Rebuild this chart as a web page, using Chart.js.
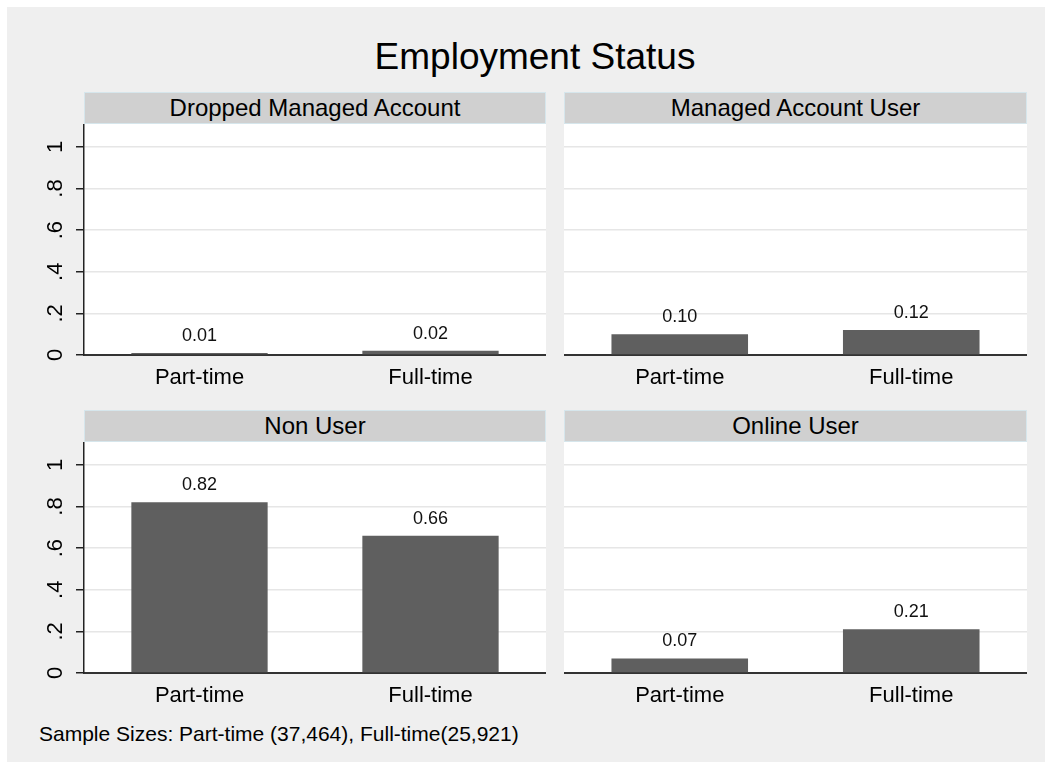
<!DOCTYPE html>
<html>
<head>
<meta charset="utf-8">
<script src="https://cdn.jsdelivr.net/npm/chart.js@4.4.1/dist/chart.umd.min.js"></script>
<style>
  body { margin: 0; background: #fff; font-family: 'Liberation Sans', Arial, sans-serif; }
  #frame { position: absolute; left: 7px; top: 7px; width: 1038px; height: 755px; background: #efefef; }
  .abs { position: absolute; }
  .title { left: 335px; top: 38px; width: 400px; text-align: center; font-size: 37px; line-height: 37px; color: #000; white-space: nowrap; }
  .strip { box-sizing: border-box; height: 32px; background: #d0d0d0; border: 1px solid #d6e6ec; text-align: center; font-size: 24px; line-height: 30px; color: #000; white-space: nowrap; }
  .note { left: 39px; top: 723px; font-size: 21px; line-height: 21px; color: #000; white-space: nowrap; }
</style>
</head>
<body>
<div id="frame"></div>
<div class="abs title">Employment Status</div>

<div class="abs strip" style="left:84px;top:92px;width:462px">Dropped Managed Account</div>
<div class="abs strip" style="left:564px;top:92px;width:463px">Managed Account User</div>
<div class="abs strip" style="left:84px;top:410px;width:462px">Non User</div>
<div class="abs strip" style="left:564px;top:410px;width:463px">Online User</div>

<canvas id="p1" class="abs" style="left:30px;top:124px" width="516" height="276"></canvas>
<canvas id="p2" class="abs" style="left:564px;top:124px" width="463" height="276"></canvas>
<canvas id="p3" class="abs" style="left:30px;top:442px" width="516" height="276"></canvas>
<canvas id="p4" class="abs" style="left:564px;top:442px" width="463" height="276"></canvas>

<div class="abs note">Sample Sizes: Part-time (37,464), Full-time(25,921)</div>

<script>
const categories = ['Part-time', 'Full-time']
const droppedValues = [0.01, 0.02]
const managedValues = [0.10, 0.12]
const nonUserValues = [0.82, 0.66]
const onlineValues = [0.07, 0.21]
const yTicks = [0, 0.2, 0.4, 0.6, 0.8, 1]
const yTickLabels = ['0', '.2', '.4', '.6', '.8', '1']

const FONT = "'Liberation Sans', Arial, sans-serif"

// white plot area behind the bars
const plotBg = {
    id: 'plotBg',
    beforeDraw(chart) {
        const { ctx, chartArea: a } = chart
        ctx.save()
        ctx.fillStyle = '#ffffff'
        ctx.fillRect(a.left, a.top, a.right - a.left, a.bottom - a.top)
        ctx.restore()
    }
}

// value labels above each bar
const barLabels = {
    id: 'barLabels',
    afterDatasetsDraw(chart) {
        const ctx = chart.ctx
        const meta = chart.getDatasetMeta(0)
        const values = chart.data.datasets[0].data
        ctx.save()
        ctx.font = '18px ' + FONT
        ctx.fillStyle = '#111'
        ctx.textAlign = 'center'
        ctx.textBaseline = 'alphabetic'
        meta.data.forEach((bar, i) => {
            ctx.fillText(values[i].toFixed(2), bar.x, bar.y - 12)
        })
        ctx.restore()
    }
}

function makePanel(id, values, showAxis) {
    const config = {
        type: 'bar',
        data: {
            labels: categories,
            datasets: [{
                data: values,
                backgroundColor: '#5f5f5f',
                borderWidth: 0,
                barPercentage: 0.59,
                categoryPercentage: 1
            }]
        },
        options: {
            responsive: false,
            animation: false,
            layout: { padding: 0 },
            plugins: {
                legend: { display: false },
                tooltip: { enabled: false }
            },
            scales: {
                x: {
                    grid: { drawOnChartArea: false, drawTicks: false },
                    border: { display: true, color: '#333', width: 2 },
                    ticks: {
                        color: '#000',
                        padding: 10,
                        font: { family: FONT, size: 22 },
                        maxRotation: 0
                    },
                    afterFit: s => { s.height = 45; s.paddingLeft = 0; s.paddingRight = 0 }
                },
                y: {
                    min: 0,
                    max: 1.11,
                    afterBuildTicks: s => { s.ticks = yTicks.map(v => ({ value: v })) },
                    grid: {
                        color: c => (c.tick && c.tick.value === 0) ? 'rgba(0,0,0,0)' : '#e6e6e6',
                        lineWidth: 1.5,
                        tickColor: '#222',
                        tickLength: 8,
                        drawTicks: showAxis
                    },
                    border: { display: showAxis, color: '#222', width: 1.5 },
                    ticks: {
                        display: showAxis,
                        color: '#000',
                        minRotation: 90,
                        maxRotation: 90,
                        crossAlign: 'center',
                        padding: 11,
                        font: { family: FONT, size: 22 },
                        callback: v => yTickLabels[yTicks.indexOf(v)]
                    },
                    afterFit: s => { s.width = showAxis ? 54 : 0; s.paddingTop = 0; s.paddingBottom = 0 }
                }
            }
        },
        plugins: [plotBg, barLabels]
    }
    return new Chart(document.getElementById(id), config)
}

makePanel('p1', droppedValues, true)
makePanel('p2', managedValues, false)
makePanel('p3', nonUserValues, true)
makePanel('p4', onlineValues, false)
</script>
</body>
</html>
